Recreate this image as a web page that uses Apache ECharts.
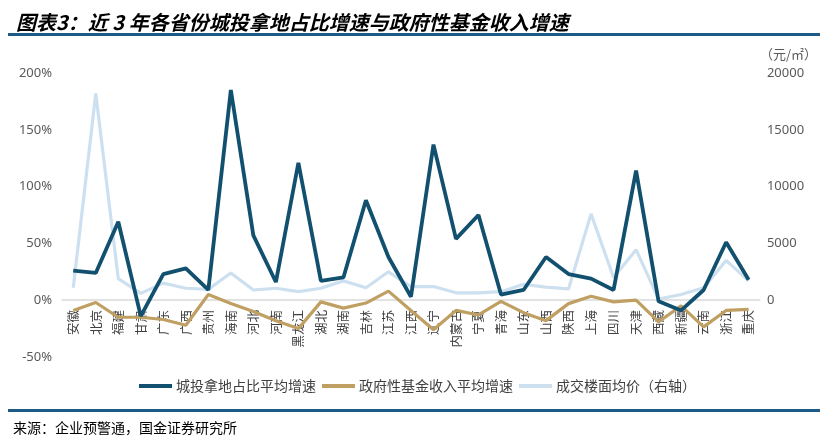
<!DOCTYPE html>
<html><head><meta charset="utf-8">
<script src="https://cdn.jsdelivr.net/npm/echarts@6/dist/echarts.min.js"></script>
<style>html,body{margin:0;padding:0;background:#fff}#c{width:820px;height:439px}</style>
</head><body><div id="c"></div>
<script>
const provinces = ['安徽','北京','福建','甘肃','广东','广西','贵州','海南','河北','河南','黑龙江','湖北','湖南','吉林','江苏','江西','辽宁','内蒙古','宁夏','青海','山东','山西','陕西','上海','四川','天津','西藏','新疆','云南','浙江','重庆'];
const landShareGrowth = [26,24,69,-14,23,28,9,185,57,16,121,17,20,88,38,3,137,54,75,5,9,38,23,19,9,114,-1,-9,9,51,18];
const fundIncomeGrowth = [-9,-2,-15,-15,-17,-22,5,-3,-10,-18,-25,-1.5,-7,-2.5,8,-9,-26,-9,-13,-1,-11,-18,-3,3.5,-1.5,0,-19,-5,-23.5,-9,-8];
const floorPrice = [1100,18200,1900,600,1500,1050,950,2400,900,1050,750,1050,1700,1100,2500,1200,1200,650,650,750,1400,1150,1000,7600,2000,4450,100,500,1100,3500,1700];
const leftTicks = {min:-50, max:200, interval:50};
const rightTicks = {min:-5000, max:20000, interval:5000};
const seriesNames = ['城投拿地占比平均增速','政府性基金收入平均增速','成交楼面均价（右轴）'];

const chart = echarts.init(document.getElementById('c'));
const font = '"Noto Sans CJK SC","Noto Sans",sans-serif';
chart.setOption({
  animation:false,
  backgroundColor:'#fff',
  title:{text:'图表3：近 3 年各省份城投拿地占比增速与政府性基金收入增速',left:11,top:7,
    textStyle:{fontSize:20,fontWeight:'bold',fontStyle:'italic',color:'#000',fontFamily:font}},
  graphic:[
    {type:'rect',shape:{x:8,y:33,width:812,height:3},style:{fill:'#1d5a85'}},
    {type:'rect',shape:{x:8,y:409,width:812,height:3},style:{fill:'#1d5a85'}},
    {type:'text',x:13,y:428,style:{text:'来源：企业预警通，国金证券研究所',fontSize:14,fill:'#000',fontFamily:font,verticalAlign:'middle'}}
  ],
  legend:{top:374,left:134,itemWidth:33,itemHeight:4,icon:'rect',itemGap:6,
    textStyle:{fontSize:14,color:'#404040',fontFamily:font,padding:[0,0,0,-1]},
    data:seriesNames},
  grid:{left:62,right:55,top:73,bottom:82},
  xAxis:{type:'category',data:provinces,boundaryGap:true,
    axisLine:{onZero:true,lineStyle:{color:'#d9d9d9',width:1.5}},
    axisTick:{show:false},
    axisLabel:{rotate:90,margin:-47,fontSize:12.5,color:'#404040',fontFamily:font,interval:0},
    splitLine:{show:false}},
  yAxis:[
    {type:'value',min:leftTicks.min,max:leftTicks.max,interval:leftTicks.interval,
      axisLine:{show:false},axisTick:{show:false},splitLine:{show:false},
      axisLabel:{formatter:'{value}%',fontSize:13,color:'#595959',margin:10,fontFamily:'"Noto Sans",sans-serif'}},
    {type:'value',min:rightTicks.min,max:rightTicks.max,interval:rightTicks.interval,
      name:'（元/㎡）',nameLocation:'end',nameGap:12,
      nameTextStyle:{fontSize:13,color:'#595959',align:'left',padding:[0,0,0,0],fontFamily:font},
      axisLine:{show:false},axisTick:{show:false},splitLine:{show:false},
      axisLabel:{formatter:v=>v<0?'':String(v),fontSize:13,color:'#595959',margin:7,fontFamily:'"Noto Sans",sans-serif'}}
  ],
  series:[
    {name:seriesNames[0],type:'line',data:landShareGrowth,yAxisIndex:0,symbol:'none',z:5,
      lineStyle:{color:'#12506f',width:3.8},itemStyle:{color:'#12506f'}},
    {name:seriesNames[1],type:'line',data:fundIncomeGrowth,yAxisIndex:0,symbol:'none',z:4,
      lineStyle:{color:'#c0a062',width:3.2},itemStyle:{color:'#c0a062'}},
    {name:seriesNames[2],type:'line',data:floorPrice,yAxisIndex:1,symbol:'none',z:3,
      lineStyle:{color:'#cde0f0',width:3.2},itemStyle:{color:'#cde0f0'}}
  ]
});
</script></body></html>
